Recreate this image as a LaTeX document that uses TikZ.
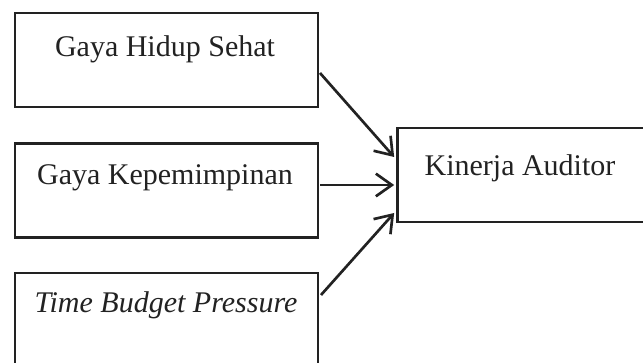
\documentclass[tikz,border=0pt]{standalone}
\usepackage{fontspec}
\setmainfont{Liberation Serif}
\usetikzlibrary{arrows.meta,calc}
\definecolor{ink}{HTML}{222222}
\begin{document}
\begin{tikzpicture}[x=0.75pt,y=-0.75pt,
  box/.style={draw=ink, line width=2.2pt, inner sep=0pt, outer sep=0pt,
    minimum width=227.25pt, minimum height=70.5pt},
  lbl/.style={anchor=base, inner sep=0pt, text=ink,
    font=\fontsize{22.5}{27}\selectfont},
  arr/.style={draw=ink, line width=2pt,
    -{Straight Barb[length=12pt,width=17pt,line width=2pt]}}]
\useasboundingbox (0,0) rectangle (643,363);
\fill[white] (0,0) rectangle (643,363);
% boxes
\node[box] (b1) at (166.5,60) {};
\node[box] (b2) at (166.5,190.5) {};
\node[box] (b3) at (166.5,320) {};
\node[box, minimum width=212pt] (r) at (538.5,175) {};
% labels
\node[lbl] (t1) at (165,57) {Gaya Hidup Sehat};
\node[lbl] (t2) at (165,185) {Gaya Kepemimpinan};
\node[lbl] (t3) at (166,313) {\itshape Time Budget Pressure};
\node[lbl] (t4) at (520,176) {Kinerja Auditor};
% connectors
\draw[arr] ($(b1.east)+(2,13)$) -- ($(r.west)+(-3,-18)$);
\draw[arr] ($(b2.east)+(2,-5.5)$) -- ($(r.west)+(-3,10)$);
\draw[arr] ($(b3.east)+(3,-25)$) -- ($(r.west)+(-3,38)$);
\end{tikzpicture}
\end{document}
